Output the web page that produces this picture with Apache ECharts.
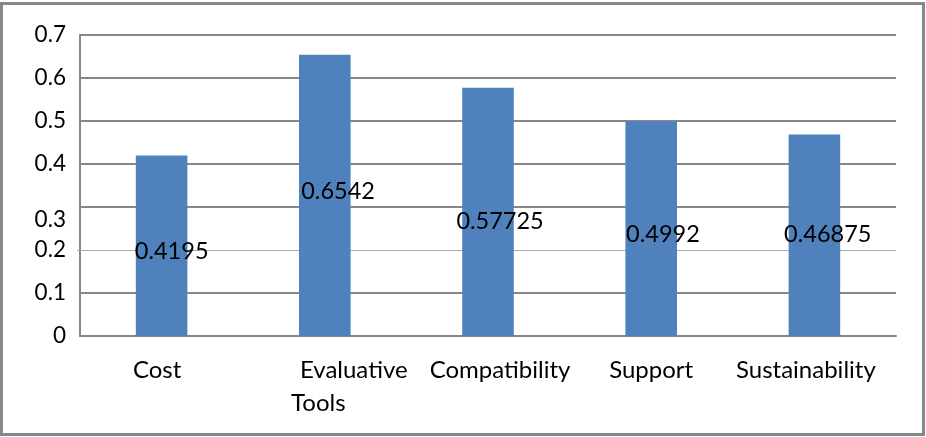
<!DOCTYPE html>
<html>
<head>
<meta charset="utf-8">
<script src="https://cdn.jsdelivr.net/npm/echarts@6/dist/echarts.min.js"></script>
<style>
  html, body { margin: 0; padding: 0; background: #fff; }
  #chart { position: absolute; left: 0; top: 0; width: 926px; height: 437px; }
  #frame { position: absolute; left: 0; top: 2px; width: 925px; height: 434px;
           box-sizing: border-box; border: 3px solid #878787; pointer-events: none; }
</style>
</head>
<body>
<div id="chart"></div>
<div id="frame"></div>
<script>
// Scores per criterion
const categories = ['Cost', 'Evaluative Tools', 'Compatibility', 'Support', 'Sustainability'];
const scores = [0.4195, 0.6542, 0.57725, 0.4992, 0.46875];
const valueLabels = ['0.4195', '0.6542', '0.57725', '0.4992', '0.46875'];
const yTicks = [0, 0.1, 0.2, 0.3, 0.4, 0.5, 0.6, 0.7];

// label nudges (px) for each bar's value text
const labelNudge = [[-1, 6], [2.2, -4], [-5.8, 9.6], [0.7, 5.3], [-4.5, -1]];

const FONT = 'Lato';
const GRID = '#878787';
const THIN = '#a9a9a9';

const chart = echarts.init(document.getElementById('chart'), null, { renderer: 'canvas' });

// category label rich styles (horizontal placement tweaks)
const catRich = {
  c0: { padding: [0, 9, 0, 0] },
  e1: { padding: [0, 0, 0, 58] },
  e2: { padding: [0, 13, 0, 0] },
  c2: { padding: [0, 0, 0, 24] },
  c3: { padding: [0, 0, 0, 0] },
  c4: { padding: [0, 17, 0, 0] }
};
Object.keys(catRich).forEach(k => Object.assign(catRich[k], {
  fontFamily: FONT, fontSize: 24, color: '#000', lineHeight: 33
}));

function catFormatter(value, index) {
  const words = value.split(' ');
  if (words.length > 1) return '{e1|' + words[0] + '}\n{e2|' + words.slice(1).join(' ') + '}';
  return '{c' + index + '|' + value + '}';
}

const splitColorsMain = yTicks.map(v => Math.abs(v - 0.2) < 1e-9 ? 'transparent' : GRID);

chart.setOption({
  animation: false,
  backgroundColor: 'transparent',
  grid: { left: 80, right: 30, top: 35, bottom: 101, containLabel: false },
  xAxis: {
    type: 'category',
    data: categories,
    axisLine: { show: true, lineStyle: { color: GRID, width: 2 } },
    axisTick: { show: false },
    axisLabel: {
      interval: 0,
      margin: 18,
      formatter: catFormatter,
      rich: catRich
    }
  },
  yAxis: [
    {
      type: 'value',
      min: 0, max: 0.7, interval: 0.1,
      axisLine: { show: true, lineStyle: { color: GRID, width: 2 } },
      axisTick: { show: false },
      splitLine: { show: true, lineStyle: { color: splitColorsMain, width: 2 } },
      axisLabel: {
        margin: 14,
        fontFamily: FONT, fontSize: 22.5, color: '#000',
        formatter: function (v) {
          const s = v === 0 ? '0' : v.toFixed(1);
          return Math.abs(v - 0.3) < 1e-9 ? '{low|' + s + '}' : '{n|' + s + '}';
        },
        rich: {
          n: { fontFamily: FONT, fontSize: 22.5, color: '#000' },
          low: { fontFamily: FONT, fontSize: 22.5, color: '#000', padding: [26, 0, 0, 0] }
        }
      }
    },
    {
      // light rule at 0.2, running slightly past the axis
      type: 'value',
      min: 0, max: 0.7, interval: 0.1,
      position: 'left',
      offset: 3,
      axisLine: { show: false },
      axisLabel: { show: false },
      splitLine: { show: false },
      axisTick: { show: true, customValues: [0.2], inside: true, length: 819,
                  lineStyle: { color: THIN, width: 1 } }
    }
  ],
  series: [{
    type: 'bar',
    yAxisIndex: 0,
    barWidth: '31.6%',
    itemStyle: { color: '#4F81BD' },
    data: scores.map((v, i) => ({
      value: v,
      label: {
        show: true,
        position: 'insideLeft',
        distance: 0,
        offset: labelNudge[i],
        formatter: valueLabels[i],
        fontFamily: FONT, fontSize: 23.5, color: '#000'
      }
    }))
  }]
});
</script>
</body>
</html>
